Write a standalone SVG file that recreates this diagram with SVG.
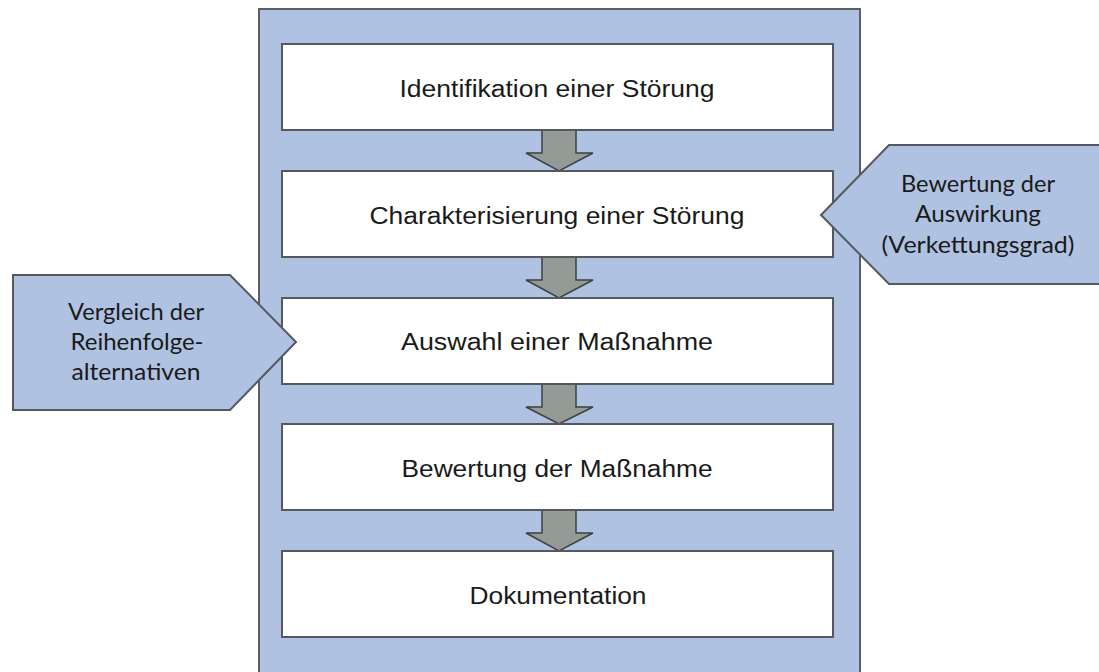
<svg xmlns="http://www.w3.org/2000/svg" width="1099" height="672" viewBox="0 0 1099 672">
<style>
.cont{fill:#afc2e2;stroke:#5a5f66;stroke-width:2}
.box{fill:#ffffff;stroke:#55585c;stroke-width:2}
.arr{fill:#949a96;stroke:#3d403f;stroke-width:1.5;stroke-linejoin:miter}
.call{fill:#afc2e2;stroke:#55595f;stroke-width:2}
.t{font-family:"Liberation Sans",Arial,sans-serif;font-size:23px;fill:#1a1a1a;text-anchor:middle}
.c{font-family:Lato,"Open Sans",sans-serif;font-size:24px;fill:#1a1a1a;text-anchor:middle}
</style>
<rect id="container" class="cont" x="259" y="9" width="601" height="680"/>
<g id="connectors">
<polygon class="arr" points="542,130 576,130 576,153 593,153 559,171 526,153 542,153"/>
<polygon class="arr" points="542,257 576,257 576,280 593,280 559,298 526,280 542,280"/>
<polygon class="arr" points="542,384 576,384 576,407 593,407 559,424 526,407 542,407"/>
<polygon class="arr" points="542,510 576,510 576,533 593,533 559,551 526,533 542,533"/>
</g>
<g id="n1">
<rect class="box" x="282" y="44" width="551" height="86"/>
<text class="t" x="557" y="97" textLength="315" lengthAdjust="spacingAndGlyphs">Identifikation einer Störung</text>
</g>
<g id="n2">
<rect class="box" x="282" y="171" width="551" height="86"/>
<text class="t" x="557" y="224" textLength="375" lengthAdjust="spacingAndGlyphs">Charakterisierung einer Störung</text>
</g>
<g id="n3">
<rect class="box" x="282" y="298" width="551" height="86"/>
<text class="t" x="557" y="350" textLength="312" lengthAdjust="spacingAndGlyphs">Auswahl einer Maßnahme</text>
</g>
<g id="n4">
<rect class="box" x="282" y="424" width="551" height="86"/>
<text class="t" x="557" y="477" textLength="311" lengthAdjust="spacingAndGlyphs">Bewertung der Maßnahme</text>
</g>
<g id="n5">
<rect class="box" x="282" y="551" width="551" height="86"/>
<text class="t" x="558" y="604" textLength="177" lengthAdjust="spacingAndGlyphs">Dokumentation</text>
</g>
<g id="callout-right">
<polygon class="call" points="821,215 889,145 1105,145 1105,284 889,284"/>
<text class="c" x="978" y="192" textLength="154" lengthAdjust="spacingAndGlyphs">Bewertung der</text>
<text class="c" x="978" y="222" textLength="126" lengthAdjust="spacingAndGlyphs">Auswirkung</text>
<text class="c" x="978" y="253" textLength="193" lengthAdjust="spacingAndGlyphs">(Verkettungsgrad)</text>
</g>
<g id="callout-left">
<polygon class="call" points="13,275 230,275 296,342 230,410 13,410"/>
<text class="c" x="136" y="320" textLength="136" lengthAdjust="spacingAndGlyphs">Vergleich der</text>
<text class="c" x="137" y="350" textLength="133" lengthAdjust="spacingAndGlyphs">Reihenfolge-</text>
<text class="c" x="136" y="380" textLength="129" lengthAdjust="spacingAndGlyphs">alternativen</text>
</g>
</svg>
